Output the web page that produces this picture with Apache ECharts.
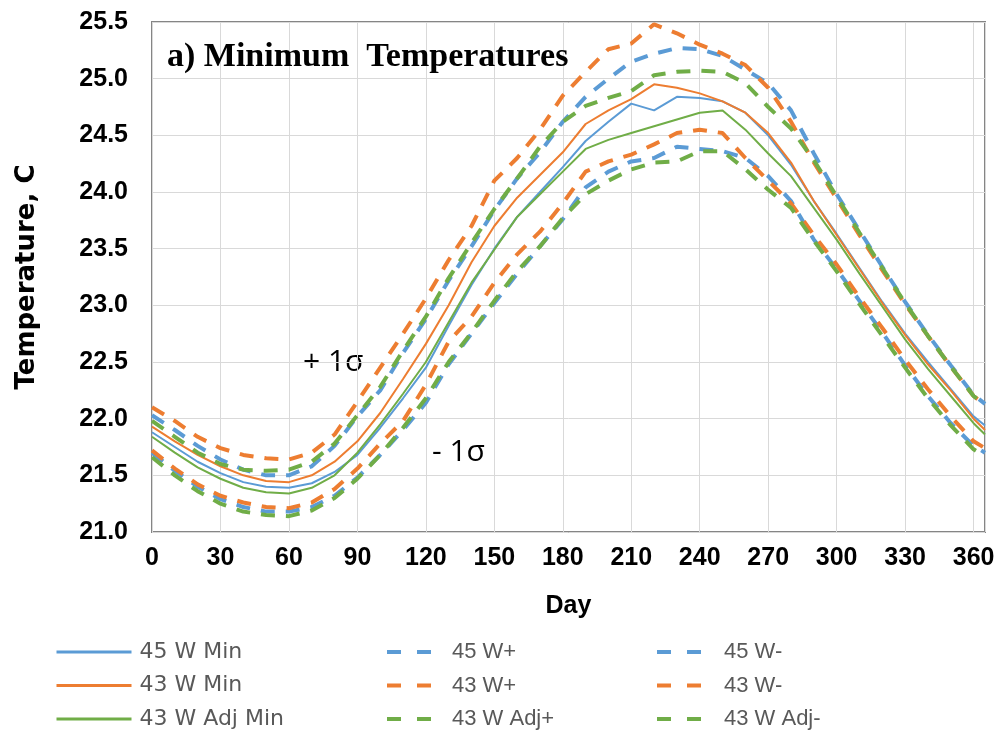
<!DOCTYPE html>
<html>
<head>
<meta charset="utf-8">
<title>Minimum Temperatures</title>
<script src="https://cdn.jsdelivr.net/npm/echarts@6/dist/echarts.min.js"></script>
<style>
  html, body { margin: 0; padding: 0; background: #ffffff; }
  #chart { width: 1003px; height: 734px; }
</style>
</head>
<body>
<div id="chart"></div>
<script>
  // day of year
  var days = [0, 10, 20, 30, 40, 50, 60, 70, 80, 90, 100, 110, 120, 130, 140, 150, 160, 170, 180,
    190, 200, 210, 220, 230, 240, 250, 260, 270, 280, 290, 300, 310, 320, 330, 340, 350, 360, 365];

  // solid lines (mean minimum temperature)
  var min45 = [21.88, 21.75, 21.62, 21.52, 21.44, 21.40, 21.39, 21.43, 21.53, 21.68, 21.92, 22.18, 22.45,
    22.82, 23.18, 23.50, 23.78, 24.00, 24.22, 24.45, 24.62, 24.78, 24.72, 24.84, 24.83, 24.80, 24.70,
    24.50, 24.24, 23.92, 23.63, 23.33, 23.03, 22.75, 22.50, 22.26, 22.02, 21.94];
  var min43 = [21.93, 21.80, 21.68, 21.58, 21.50, 21.45, 21.44, 21.50, 21.62, 21.80, 22.05, 22.35, 22.66,
    23.00, 23.38, 23.70, 23.95, 24.15, 24.35, 24.60, 24.72, 24.82, 24.95, 24.92, 24.87, 24.80, 24.70,
    24.52, 24.26, 23.92, 23.62, 23.32, 23.02, 22.74, 22.48, 22.25, 22.00, 21.90];
  var min43adj = [21.84, 21.70, 21.57, 21.47, 21.39, 21.35, 21.34, 21.39, 21.50, 21.70, 21.95, 22.22, 22.50,
    22.85, 23.20, 23.49, 23.78, 23.98, 24.18, 24.38, 24.46, 24.52, 24.58, 24.64, 24.70, 24.72, 24.55,
    24.34, 24.14, 23.86, 23.58, 23.28, 22.99, 22.70, 22.44, 22.20, 21.96, 21.86];

  // +1 sigma
  var plus45 = [22.03, 21.90, 21.76, 21.64, 21.55, 21.50, 21.50, 21.58, 21.76, 22.02, 22.25, 22.58, 22.88,
    23.22, 23.52, 23.84, 24.12, 24.35, 24.62, 24.84, 25.00, 25.15, 25.22, 25.27, 25.26, 25.20, 25.08,
    24.96, 24.72, 24.34, 23.98, 23.66, 23.34, 23.03, 22.74, 22.47, 22.21, 22.13];
  var plus43 = [22.10, 21.98, 21.84, 21.74, 21.68, 21.65, 21.64, 21.70, 21.86, 22.15, 22.45, 22.75, 23.06,
    23.40, 23.70, 24.10, 24.30, 24.55, 24.85, 25.06, 25.26, 25.31, 25.48, 25.40, 25.30, 25.22, 25.12,
    24.92, 24.62, 24.26, 23.94, 23.62, 23.31, 23.01, 22.73, 22.46, 22.20, 22.12];
  var plus43adj = [21.98, 21.84, 21.70, 21.60, 21.55, 21.54, 21.55, 21.62, 21.78, 22.03, 22.28, 22.60, 22.90,
    23.24, 23.55, 23.85, 24.12, 24.40, 24.62, 24.76, 24.83, 24.89, 25.03, 25.06, 25.07, 25.06, 24.96,
    24.75, 24.56, 24.28, 23.96, 23.64, 23.33, 23.02, 22.73, 22.46, 22.20, 22.12];

  // -1 sigma
  var minus45 = [21.70, 21.54, 21.40, 21.29, 21.22, 21.18, 21.18, 21.22, 21.32, 21.48, 21.68, 21.90, 22.14,
    22.48, 22.75, 23.02, 23.28, 23.52, 23.76, 24.04, 24.18, 24.27, 24.30, 24.40, 24.38, 24.36, 24.30,
    24.14, 23.92, 23.58, 23.32, 23.04, 22.76, 22.47, 22.20, 21.96, 21.76, 21.70];
  var minus43 = [21.72, 21.56, 21.42, 21.32, 21.26, 21.22, 21.21, 21.26, 21.38, 21.56, 21.78, 21.98, 22.30,
    22.68, 22.90, 23.20, 23.45, 23.65, 23.90, 24.18, 24.27, 24.33, 24.42, 24.52, 24.55, 24.52, 24.30,
    24.10, 23.90, 23.62, 23.36, 23.07, 22.80, 22.52, 22.26, 22.02, 21.80, 21.74];
  var minus43adj = [21.66, 21.50, 21.36, 21.25, 21.18, 21.15, 21.14, 21.19, 21.30, 21.47, 21.68, 21.92, 22.18,
    22.50, 22.76, 23.04, 23.30, 23.52, 23.77, 23.98, 24.10, 24.20, 24.26, 24.27, 24.36, 24.36, 24.20,
    24.02, 23.86, 23.57, 23.30, 23.01, 22.73, 22.45, 22.18, 21.94, 21.73, 21.67];

  var xTicks = [0, 30, 60, 90, 120, 150, 180, 210, 240, 270, 300, 330, 360];

  var BLUE = '#5b9bd5', ORANGE = '#ed7d31', GREEN = '#70ad47';

  function pairs(vals) {
    var out = [];
    for (var i = 0; i < days.length; i++) {
      out.push([days[i], vals[i]]);
    }
    return out;
  }

  function solid(name, color, vals) {
    return {
      name: name, type: 'line', data: pairs(vals), symbol: 'none',
      itemStyle: {color: color},
      lineStyle: {color: color, width: 2}
    };
  }

  function dashed(name, color, vals) {
    return {
      name: name, type: 'line', data: pairs(vals), symbol: 'none',
      itemStyle: {color: color},
      lineStyle: {color: color, width: 4, type: [14, 11]}
    };
  }

  // three legend columns, same row layout
  function legendCol(left, iconW, textPad, font, names, lineStyle) {
    return {
      orient: 'vertical', left: left, top: 641, height: 110, padding: 0,
      itemWidth: iconW, itemHeight: 14, itemGap: 11.5,
      itemStyle: {opacity: 0},
      lineStyle: lineStyle,
      textStyle: {color: '#595959', fontSize: 22, fontFamily: font, lineHeight: 22, padding: [0, 0, 0, textPad]},
      data: names
    };
  }

  var chart = echarts.init(document.getElementById('chart'));
  chart.setOption({
    animation: false,
    backgroundColor: '#ffffff',
    title: {
      text: 'a) Minimum  Temperatures',
      left: 162, top: 35,
      textStyle: {fontFamily: 'Liberation Serif', fontWeight: 'bold', fontSize: 34, color: '#000'}
    },
    grid: {
      left: 152, top: 22, right: 18, bottom: 202,
      show: true, borderColor: '#858585', borderWidth: 2
    },
    legend: [
      legendCol(55, 75, 3, 'DejaVu Sans', ['45 W Min', '43 W Min', '43 W Adj Min'], {width: 3}),
      legendCol(385, 45, 15, 'Liberation Sans', ['45 W+', '43 W+', '43 W Adj+'], {type: [14, 16], width: 4}),
      legendCol(655, 45, 17, 'Liberation Sans', ['45 W-', '43 W-', '43 W Adj-'], {type: [14, 16], width: 4})
    ],
    xAxis: {
      type: 'value', min: 0, max: 365, interval: 30,
      name: 'Day', nameLocation: 'middle', nameGap: 62,
      nameTextStyle: {fontFamily: 'Liberation Sans', fontWeight: 'bold', fontSize: 25, color: '#000'},
      axisLine: {show: false},
      axisTick: {show: false},
      axisLabel: {
        margin: 14, showMaxLabel: false,
        fontFamily: 'Liberation Sans', fontWeight: 'bold', fontSize: 25, color: '#000',
        formatter: function (v) { return xTicks.indexOf(v) >= 0 ? String(v) : ''; }
      },
      splitLine: {show: true, lineStyle: {color: '#d9d9d9', width: 1}}
    },
    yAxis: {
      type: 'value', min: 21, max: 25.5, interval: 0.5,
      name: 'Temperature, C', nameLocation: 'middle', nameGap: 112,
      nameTextStyle: {fontFamily: 'DejaVu Sans', fontWeight: 'bold', fontSize: 26, color: '#000'},
      axisLine: {show: false},
      axisTick: {show: false},
      axisLabel: {
        margin: 24,
        fontFamily: 'Liberation Sans', fontWeight: 'bold', fontSize: 25, color: '#000',
        formatter: function (v) { return v.toFixed(1); }
      },
      splitLine: {show: true, lineStyle: {color: '#d9d9d9', width: 1}}
    },
    graphic: [
      {type: 'text', left: 303, top: 347, style: {text: '+ 1σ', fontFamily: 'Open Sans', fontSize: 30, fill: '#000'}},
      {type: 'text', left: 432, top: 437, style: {text: '- 1σ', fontFamily: 'Open Sans', fontSize: 30, fill: '#000'}}
    ],
    series: [
      solid('45 W Min', BLUE, min45),
      solid('43 W Min', ORANGE, min43),
      solid('43 W Adj Min', GREEN, min43adj),
      dashed('45 W+', BLUE, plus45),
      dashed('43 W+', ORANGE, plus43),
      dashed('43 W Adj+', GREEN, plus43adj),
      dashed('45 W-', BLUE, minus45),
      dashed('43 W-', ORANGE, minus43),
      dashed('43 W Adj-', GREEN, minus43adj)
    ]
  });
</script>
</body>
</html>
